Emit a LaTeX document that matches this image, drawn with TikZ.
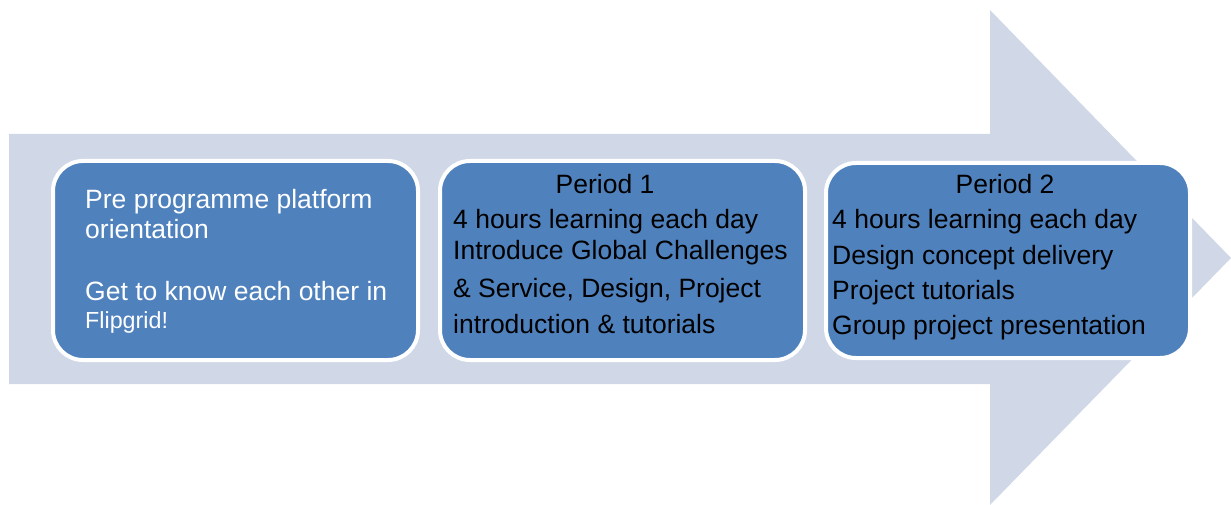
\documentclass[tikz,border=0pt]{standalone}
\usepackage{fontspec}
\setmainfont{Liberation Sans}
\definecolor{arrowfill}{RGB}{208,216,232}
\definecolor{boxfill}{RGB}{79,129,189}
\begin{document}
\begin{tikzpicture}[x=1pt,y=-1pt,
  phase/.style={fill=boxfill,draw=white,line width=4pt,rounded corners=30pt,
    anchor=north west,inner sep=0pt,minimum width=365pt,minimum height=199pt},
  txt/.style={anchor=base west,inner sep=0pt,font=\fontsize{26.5}{30}\selectfont},
  txtc/.style={txt,anchor=base},
  small/.style={txt,font=\fontsize{23.3}{27}\selectfont}]
\useasboundingbox (0,0) rectangle (1231,505);
\fill[arrowfill] (9,134) -- (990,134) -- (990,10) -- (1231,258) -- (990,505)
  -- (990,384) -- (9,384) -- cycle;
\node[phase] (b1) at (51,159) {};
\node[phase] (b2) at (438,159) {};
\node[phase,minimum width=364pt,minimum height=195pt] (b3) at (824,161) {};
% box 1
\node[txt,text=white] (t1a) at (85,208) {Pre programme platform};
\node[txt,text=white] (t1b) at (85,238) {orientation};
\node[txt,text=white] (t1c) at (85,300) {Get to know each other in};
\node[small,text=white] (t1d) at (85,328) {Flipgrid!};
% box 2
\node[txtc] (t2a) at (605,194) {Period 1};
\node[txt] (t2b) at (453,229) {4 hours learning each day};
\node[txt] (t2c) at (453,259) {Introduce Global Challenges};
\node[txt] (t2d) at (453,297) {\& Service, Design, Project};
\node[txt] (t2e) at (453,333) {introduction \& tutorials};
% box 3
\node[txtc] (t3a) at (1005,194) {Period 2};
\node[txt] (t3b) at (832,229) {4 hours learning each day};
\node[txt] (t3c) at (832,264) {Design concept delivery};
\node[txt] (t3d) at (832,299) {Project tutorials};
\node[txt] (t3e) at (832,334) {Group project presentation};
\end{tikzpicture}
\end{document}
